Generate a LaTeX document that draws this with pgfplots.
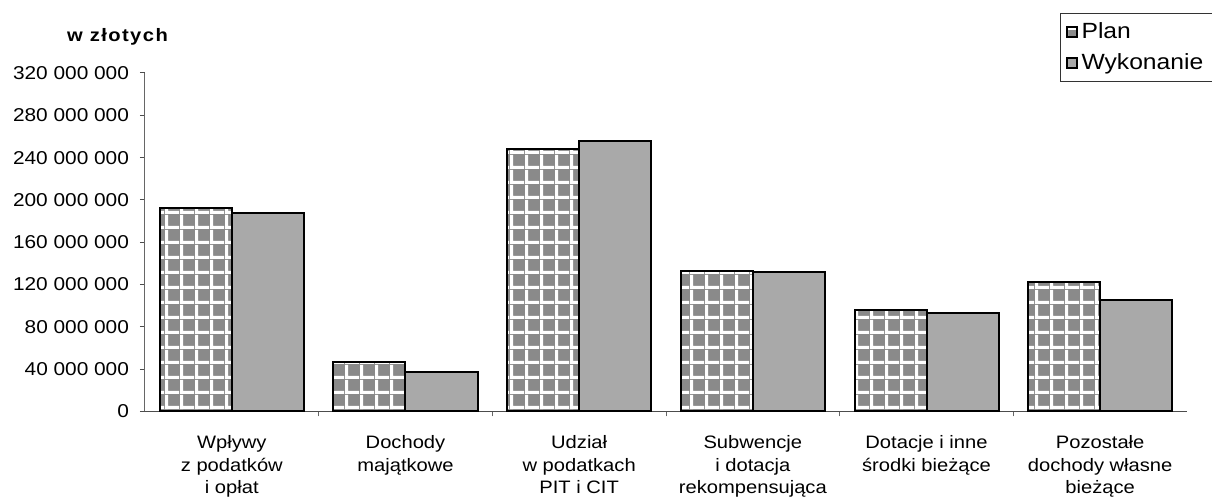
\documentclass[border=0pt]{standalone}
\usepackage{fontspec}
\setmainfont[FakeStretch=1.12]{Liberation Sans}
\usepackage{pgfplots}
\pgfplotsset{compat=1.18}
\usetikzlibrary{patterns}

\pgfdeclarepatternformonly{biggrid}{\pgfpointorigin}{\pgfqpoint{7.5pt}{7.3pt}}{\pgfqpoint{7.5pt}{7.3pt}}{%
  \pgfpathrectangle{\pgfpointorigin}{\pgfqpoint{7.5pt}{1.6pt}}%
  \pgfpathrectangle{\pgfpointorigin}{\pgfqpoint{1.6pt}{7.3pt}}%
  \pgfusepath{fill}}

\definecolor{plangray}{HTML}{8A8A8A}
\definecolor{wykgray}{HTML}{A9A9A9}

\pgfplotstableread{
x plan wyk
0 192.1 187.4
1 47.1 37.6
2 247.9 256.0
3 133.1 132.2
4 96.0 92.8
5 122.1 105.4
}\datatable

\begin{document}
\begin{tikzpicture}
\useasboundingbox (0,0) rectangle (606pt,248.5pt);
\node[anchor=west, font=\fontsize{9}{11}\selectfont\addfontfeatures{LetterSpace=8}\bfseries] at (30pt,230pt) {w złotych};
\begin{axis}[
  at={(72.5pt,42.75pt)}, anchor=south west,
  scale only axis, width=521pt, height=169.25pt,
  xmin=-0.5, xmax=5.5, ymin=0, ymax=320,
  axis x line*=bottom, axis y line*=left,
  axis line style={-},
  x axis line style={black!70, line width=0.9pt},
  y axis line style={black!60, line width=0.5pt},
  ybar=0pt, bar width=36pt,
  ytick={0,40,...,320},
  yticklabels={0,40 000 000,80 000 000,120 000 000,160 000 000,200 000 000,240 000 000,280 000 000,320 000 000},
  /pgf/number format/assume math mode=true,
  yticklabel style={font=\fontsize{9.3}{11}\selectfont, xshift=-2pt},
  ytick style={black!70, line width=0.5pt},
  xtick={0,...,5},
  xticklabels={{Wpływy\\z podatków\\i opłat},{Dochody\\majątkowe},{Udział\\w  podatkach\\PIT i CIT},{Subwencje\\i dotacja\\rekompensująca},{Dotacje i inne\\środki bieżące},{Pozostałe\\dochody własne\\bieżące}},
  xticklabel style={align=center, font=\fontsize{9}{11.25}\selectfont, yshift=-6pt},
  major x tick style={draw=none},
  minor xtick={0.5,1.5,...,4.5},
  minor x tick style={black!60, line width=0.5pt},
  minor tick length=2.5pt,
  major tick length=2.5pt,
  tick align=outside,
  legend style={at={(0.878,1.177)}, anchor=north west, draw=black!80, line width=0.5pt,
    font=\fontsize{11}{12}\selectfont, inner xsep=3pt, inner ysep=2.5pt, row sep=2pt,
    legend cell align=left,
    /tikz/column 2/.style={nodes={text width=95pt}}},
  legend image code/.code={\draw[#1, line width=0.6pt] (0pt,-2.5pt) rectangle (5pt,2.5pt);},
  clip=false,
]
\addplot[draw=black, line width=1pt, fill=plangray, postaction={pattern=biggrid, pattern color=white}] table[x=x, y=plan] {\datatable};
\addplot[draw=black, line width=1pt, fill=wykgray] table[x=x, y=wyk] {\datatable};
\legend{Plan, Wykonanie}
\end{axis}
\end{tikzpicture}
\end{document}
